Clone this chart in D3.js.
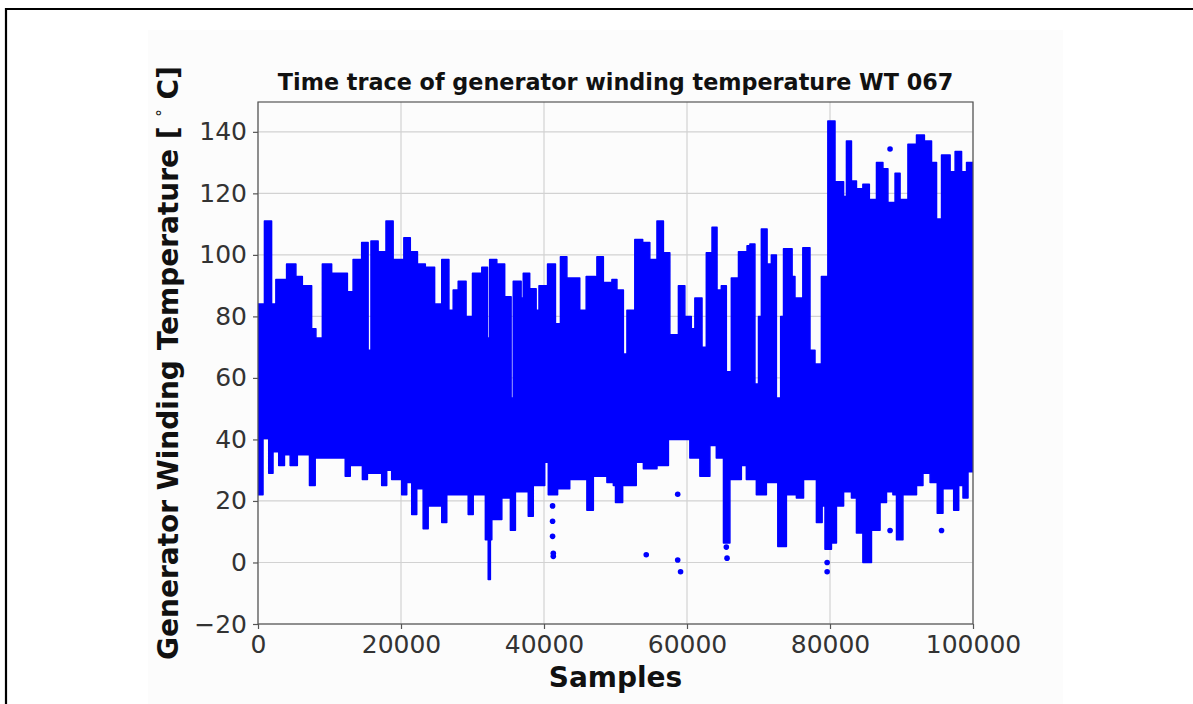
<!DOCTYPE html>
<html>
<head>
<meta charset="utf-8">
<script src="https://cdnjs.cloudflare.com/ajax/libs/d3/7.8.5/d3.min.js"></script>
<style>
  html, body { margin: 0; padding: 0; background: #fff; }
  svg { display: block; font-family: "DejaVu Sans", sans-serif; }
</style>
</head>
<body>
<div id="chart"></div>
<script>
"use strict";

// upper envelope of the trace (sample index where a level starts, temperature)
var upperSamples = [0, 900, 1900, 2500, 4000, 5300, 6200, 7500, 8100, 9000, 10300, 12500, 13300, 14500, 15400, 15800, 16800, 17900, 18900, 20400, 21300, 22300, 23400, 24700,
  25700, 26700, 27300, 28000, 29100, 30000, 31300, 32100, 32400, 33400, 34500, 35400, 35700, 36800, 37100, 38000, 38900, 39300, 40500, 41600, 42300, 43200, 45000, 45900, 47200, 47400, 48300,
  49500, 50200, 51100, 51600, 52700, 53800, 54800, 55800, 56700, 57600, 58800, 59700, 60600, 61100, 62100, 62700, 63500, 64200, 64800, 65500, 66200, 67200, 68400, 68800, 69500, 70000, 70400, 71200, 71800, 72500, 73100, 73500, 74700,
  75100, 76200, 77200, 77900, 78800, 79700, 80700, 81900, 82300, 83000, 83700, 84600, 85500, 86500, 87400, 88100, 89100, 89800, 90900, 92100, 93200, 94200, 94900, 95600, 96800, 97500, 98400, 99100, 100000];
var upperTemps = [84, 111, 84, 92, 97, 93, 90, 76, 73, 97, 94, 88, 98.5, 104, 69, 104.5, 101, 111, 98.5, 105.6, 101, 97, 96, 84,
  98.5, 82, 88.6, 91.4, 80, 94, 96, 73, 98.5, 97, 86.4, 53.5, 91.4, 86, 94, 89, 82, 90, 97, 77.6, 99.4, 92.5, 82, 93, 59, 99.4, 91,
  92, 88.6, 67.8, 82, 105, 104, 98.5, 111, 100.7, 74, 90, 80, 76, 86, 70, 100.7, 109, 88.6, 90, 62, 92.5, 101, 103, 103.5, 58, 80, 108.4, 97, 100, 53.5, 80, 102, 93,
  86, 102.3, 69, 64.5, 93, 143.5, 123.8, 119, 137, 124, 121.5, 123, 118, 130, 128, 117, 126.5, 118, 136, 139, 137, 130, 111.7, 132.5, 127, 133.6, 127, 130, 130];

// lower envelope of the trace
var lowerSamples = [0, 700, 1500, 2100, 2900, 3700, 4500, 5500, 7200, 8000, 12200, 12900, 14600, 15300, 17300, 18000, 18700, 20100, 20800, 21500, 22200, 23100, 23800,
  25700, 26400, 29400, 30100, 31800, 32200, 32500, 32700, 34100, 35300, 36000, 37800, 38500, 40100, 40600, 41900, 43600, 46000, 46900, 48800,
  49700, 50000, 51000, 52900, 53900, 55800, 57400, 60400, 61800, 63200, 64100, 65100, 66000, 67600, 68300, 69700, 71100, 72700, 73900,
  75300, 76300, 78100, 78900, 79300, 80200, 80900, 81900, 83000, 83700, 84600, 85800, 87000, 87900, 88800, 89300, 90200, 92100, 93000, 94000, 95000, 95800, 97300, 98000, 98600, 99300, 100000];
var lowerTemps = [22, 40.3, 29, 36, 31.5, 35, 31.5, 35, 25, 34, 28, 31.5, 27, 29, 25, 30, 27, 22, 26, 15.6, 24, 11, 18.4,
  13, 22, 15.6, 22, 7.4, -5.5, 7.4, 14, 21, 10.5, 23, 15, 25, 32.6, 22, 24, 27, 17, 28, 26,
  25, 19.5, 25, 32.6, 30.5, 31.5, 40, 34, 28, 38, 34, 6.3, 27, 31.5, 27, 22, 26, 5.2, 22,
  21, 27, 13, 18.4, 4.3, 6.3, 18.4, 23, 21, 9.6, 0, 10.5, 19.5, 23, 22, 7.4, 22, 25, 29, 26, 16, 24, 17, 25, 21, 29.5, 29.5];

// isolated points outside the envelope
var outlierSamples = [41200, 41200, 41200, 41300, 41300, 54300, 58700, 58700, 59100, 65600, 65500, 79600, 79600, 88400, 88400, 95600];
var outlierTemps = [18.4, 13.4, 8.5, 3, 2, 2.5, 22.2, 0.8, -3, 1.4, 5, -3, 0, 134.4, 10.4, 10.4];

var xTicks = [0, 20000, 40000, 60000, 80000, 100000];
var yTicks = [-20, 0, 20, 40, 60, 80, 100, 120, 140];
var bandMid = 50;

var W = 1193, H = 704;
var pLeft = 258, pRight = 973, pTop = 102, pBottom = 624;
var blue = '#0000ff';

var svg = d3.select('#chart').append('svg').attr('width', W).attr('height', H);

// page frame
svg.append('rect').attr('x', 148).attr('y', 30).attr('width', 915).attr('height', 674).attr('fill', '#fcfcfc');
svg.append('path').attr('d', 'M6,' + H + 'V9H' + W).attr('fill', 'none').attr('stroke', '#000').attr('stroke-width', 2.2);

var x = d3.scaleLinear().domain([0, 100000]).range([pLeft, pRight]);
var y = d3.scaleLinear().domain([-20, 149.7]).range([pBottom, pTop]);

// grid
var grid = svg.append('g');
grid.selectAll('.gy').data(yTicks).enter().append('line')
  .attr('x1', pLeft).attr('x2', pRight).attr('y1', function (d) { return y(d); }).attr('y2', function (d) { return y(d); })
  .attr('stroke', '#d2d2d2').attr('stroke-width', 1.2);
grid.selectAll('.gx').data(xTicks).enter().append('line')
  .attr('y1', pTop).attr('y2', pBottom).attr('x1', function (d) { return x(d); }).attr('x2', function (d) { return x(d); })
  .attr('stroke', '#d2d2d2').attr('stroke-width', 1.2);

svg.append('clipPath').attr('id', 'clip').append('rect')
  .attr('x', pLeft).attr('y', pTop).attr('width', pRight - pLeft).attr('height', pBottom - pTop);

var plot = svg.append('g').attr('clip-path', 'url(#clip)');

var upper = upperSamples.map(function (s, i) { return [s, upperTemps[i]]; });
var lower = lowerSamples.map(function (s, i) { return [s, lowerTemps[i]]; });

var band = d3.area().curve(d3.curveStepAfter)
  .x(function (d) { return x(d[0]); })
  .y0(y(bandMid))
  .y1(function (d) { return y(d[1]); });

plot.append('path').datum(upper).attr('d', band).attr('fill', blue).attr('stroke', blue).attr('stroke-width', 1.5).attr('stroke-linejoin', 'round');
plot.append('path').datum(lower).attr('d', band).attr('fill', blue).attr('stroke', blue).attr('stroke-width', 1.5).attr('stroke-linejoin', 'round');

plot.selectAll('.out').data(outlierSamples).enter().append('circle')
  .attr('cx', function (d) { return x(d); })
  .attr('cy', function (d, i) { return y(outlierTemps[i]); })
  .attr('r', 2.8).attr('fill', blue);

// axes
var xAxis = svg.append('g').attr('transform', 'translate(0,' + pBottom + ')')
  .call(d3.axisBottom(x).tickValues(xTicks).tickFormat(d3.format('d')).tickSize(5).tickPadding(6));
var yAxis = svg.append('g').attr('transform', 'translate(' + pLeft + ',0)')
  .call(d3.axisLeft(y).tickValues(yTicks).tickFormat(d3.format('d')).tickSize(5).tickPadding(6));
[xAxis, yAxis].forEach(function (a) {
  a.select('.domain').remove();
  a.selectAll('line').attr('stroke', '#555').attr('stroke-width', 1.2);
  a.selectAll('text').attr('fill', '#333').style('font-size', '25px').style('font-family', '"DejaVu Sans", sans-serif');
});

svg.append('rect').attr('x', pLeft).attr('y', pTop).attr('width', pRight - pLeft).attr('height', pBottom - pTop)
  .attr('fill', 'none').attr('stroke', '#555').attr('stroke-width', 1.2);

// titles
svg.append('text').attr('x', (pLeft + pRight) / 2).attr('y', 90).attr('text-anchor', 'middle')
  .style('font-size', '22.3px').style('font-weight', 'bold').attr('fill', '#111')
  .text('Time trace of generator winding temperature WT 067');

svg.append('text').attr('x', (pLeft + pRight) / 2).attr('y', 687).attr('text-anchor', 'middle')
  .style('font-size', '28px').style('font-weight', 'bold').attr('fill', '#111')
  .text('Samples');

var yl = svg.append('text').attr('transform', 'translate(178,' + ((pTop + pBottom) / 2) + ') rotate(-90)')
  .attr('text-anchor', 'middle').style('font-size', '28px').style('font-weight', 'bold').attr('fill', '#111');
yl.append('tspan').text('Generator Winding Temperature [ ');
yl.append('tspan').attr('dy', -10).style('font-size', '15px').style('font-weight', 'normal').text('\u00b0');
yl.append('tspan').attr('dy', 10).text(' C]');
</script>
</body>
</html>
